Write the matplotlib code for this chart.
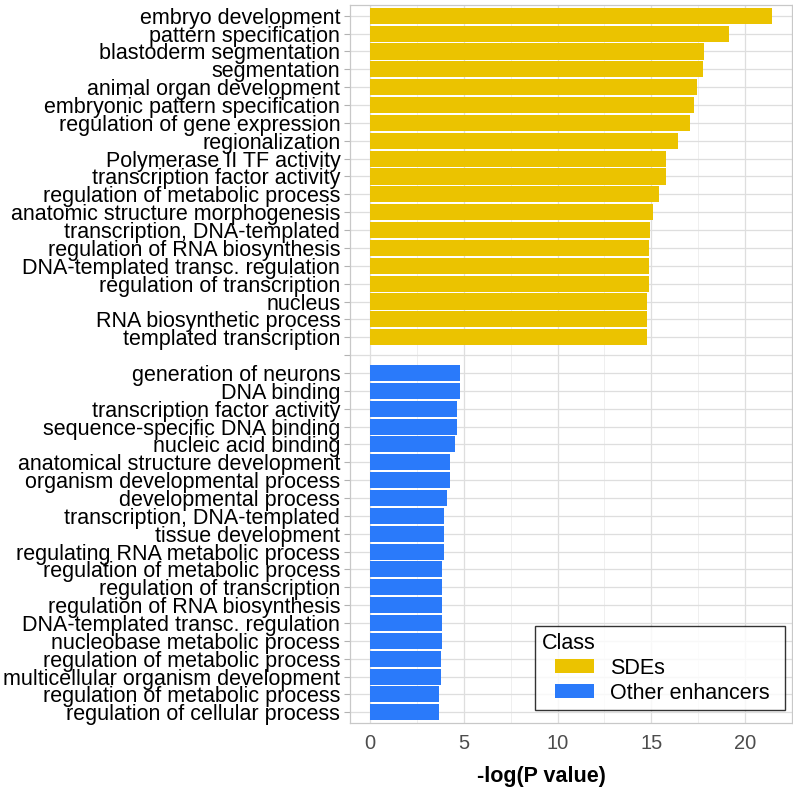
import matplotlib
matplotlib.use("Agg")
import matplotlib.pyplot as plt
from matplotlib.patches import Patch, Rectangle
from matplotlib.legend_handler import HandlerPatch
from matplotlib.ticker import MultipleLocator
import numpy as np

plt.rcParams['font.family'] = ['Liberation Sans', 'DejaVu Sans']

sde_terms = [
    "embryo development", "pattern specification", "blastoderm segmentation",
    "segmentation", "animal organ development", "embryonic pattern specification",
    "regulation of gene expression", "regionalization", "Polymerase II TF activity",
    "transcription factor activity", "regulation of metabolic process",
    "anatomic structure morphogenesis", "transcription, DNA-templated",
    "regulation of RNA biosynthesis", "DNA-templated transc. regulation",
    "regulation of transcription", "nucleus", "RNA biosynthetic process",
    "templated transcription",
]
sde_values = [21.44, 19.16, 17.84, 17.77, 17.46, 17.29, 17.09, 16.41, 15.80,
              15.80, 15.44, 15.09, 14.91, 14.86, 14.86, 14.86, 14.77, 14.77, 14.77]

other_terms = [
    "generation of neurons", "DNA binding", "transcription factor activity",
    "sequence-specific DNA binding", "nucleic acid binding",
    "anatomical structure development", "organism developmental process",
    "developmental process", "transcription, DNA-templated", "tissue development",
    "regulating RNA metabolic process", "regulation of metabolic process",
    "regulation of transcription", "regulation of RNA biosynthesis",
    "DNA-templated transc. regulation", "nucleobase metabolic process",
    "regulation of metabolic process", "multicellular organism development",
    "regulation of metabolic process", "regulation of cellular process",
]
other_values = [4.80, 4.77, 4.61, 4.61, 4.55, 4.26, 4.26, 4.08, 3.95, 3.95,
                3.92, 3.85, 3.83, 3.83, 3.83, 3.81, 3.79, 3.79, 3.70, 3.70]

sde_color = "#EBC300"
other_color = "#2A7AFA"

# one empty slot between the two groups
labels = sde_terms + [""] + other_terms
sde_pos = np.arange(len(sde_terms))
other_pos = np.arange(len(other_terms)) + len(sde_terms) + 1


class IndentedPatch(HandlerPatch):
    # legend key drawn a bit to the right, like ggplot's indented keys
    def create_artists(self, legend, orig_handle, xdescent, ydescent,
                       width, height, fontsize, trans):
        shift = 0.63 * fontsize
        p = Rectangle((-xdescent + shift, -ydescent), width - shift, height,
                      facecolor=orig_handle.get_facecolor(), edgecolor="none",
                      transform=trans)
        return [p]


fig = plt.figure(figsize=(7.93, 7.87), dpi=100)
ax = fig.add_axes([0.4414, 0.0813, 0.5573, 0.9123])

ax.barh(sde_pos, sde_values, height=0.9, color=sde_color, zorder=3)
ax.barh(other_pos, other_values, height=0.9, color=other_color, zorder=3)

ax.set_yticks(np.arange(len(labels)))
ax.set_yticklabels(labels, fontsize=15.5, color="black")
ax.set_ylim(len(labels) - 0.4, -0.6)

xmax = max(sde_values)
ax.set_xlim(-0.05 * xmax, 1.05 * xmax)
ax.xaxis.set_major_locator(MultipleLocator(5))
ax.xaxis.set_minor_locator(MultipleLocator(2.5))
ax.tick_params(axis="x", which="major", labelsize=14.5, colors="#B3B3B3",
               labelcolor="#4D4D4D", length=0, pad=8)
ax.tick_params(axis="x", which="minor", length=0)
ax.tick_params(axis="y", colors="#B3B3B3", labelcolor="black", length=4, width=0.8, pad=3)

ax.grid(True, which="major", color="#DEDEDE", linewidth=0.9, zorder=0)
ax.grid(True, which="minor", axis="x", color="#EDEDED", linewidth=0.6, zorder=0)
ax.set_axisbelow(True)
for s in ax.spines.values():
    s.set_color("#C8C8C8")
    s.set_linewidth(0.9)

ax.set_xlabel("-log(P value)", fontsize=15.5, fontweight="bold")
ax.xaxis.set_label_coords(0.433, -0.06)

handles = [Patch(facecolor=sde_color, label="SDEs"),
           Patch(facecolor=other_color, label="Other enhancers")]
leg = ax.legend(handles=handles, title="Class", loc="lower left",
                bbox_to_anchor=(0.4186, 0.018, 0.5656, 0.2), mode="expand",
                borderaxespad=0,
                fontsize=15.5, title_fontsize=15.5, frameon=True, fancybox=False,
                handlelength=2.44, handleheight=0.65, handletextpad=0.75,
                labelspacing=0.18, borderpad=0.3,
                handler_map={Patch: IndentedPatch()})
leg.get_frame().set_edgecolor("black")
leg.get_frame().set_linewidth(1.0)
leg._legend_box.align = "left"

fig.savefig("out.png", dpi=100)
